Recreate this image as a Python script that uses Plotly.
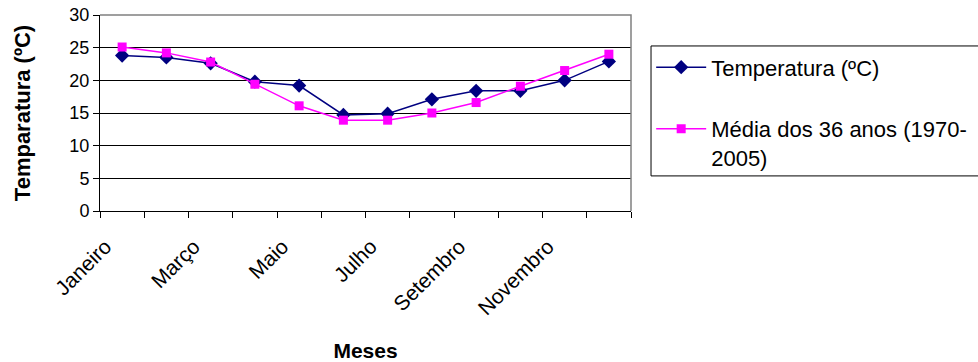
import plotly.graph_objects as go

# Monthly temperatures (ºC) and the 36-year average (1970-2005)
meses = ["Janeiro", "Fevereiro", "Março", "Abril", "Maio", "Junho",
         "Julho", "Agosto", "Setembro", "Outubro", "Novembro", "Dezembro"]
temperatura = [23.8, 23.5, 22.6, 19.8, 19.2, 14.7, 14.9, 17.1, 18.4, 18.4, 20.0, 22.9]
media_36_anos = [25.1, 24.2, 22.8, 19.4, 16.1, 13.9, 13.9, 15.0, 16.6, 19.1, 21.5, 24.0]

# Only every other month is labelled on the category axis
rotulos = [m for i, m in enumerate(meses) if i % 2 == 0]
posicoes_rotulos = [i for i in range(len(meses)) if i % 2 == 0]
y_ticks = [0, 5, 10, 15, 20, 25, 30]

FONT = "Liberation Sans, Arial, sans-serif"
# Rotated labels sit with their end slightly left of the category centre
LABEL_SHIFT = 0.38

fig = go.Figure()
fig.add_trace(go.Scatter(
    x=meses, y=temperatura, name="Temperatura (ºC)",
    mode="lines+markers", legendgroup="a",
    line=dict(color="#000080", width=1.5),
    marker=dict(symbol="diamond", size=11, color="#000080"),
))
fig.add_trace(go.Scatter(
    x=meses, y=media_36_anos, name="Média dos 36 anos (1970-<br>2005)",
    mode="lines+markers", legendgroup="b",
    line=dict(color="#FF00FF", width=1.5),
    marker=dict(symbol="square", size=9, color="#FF00FF"),
))
# empty helper trace so the label axis gets drawn
fig.add_trace(go.Scatter(
    x=[p - LABEL_SHIFT for p in posicoes_rotulos], y=[None] * len(posicoes_rotulos),
    xaxis="x2", yaxis="y", mode="markers", showlegend=False, hoverinfo="skip",
))

fig.update_layout(
    width=978, height=362,
    margin=dict(l=100, r=347, t=15, b=151, autoexpand=False),
    paper_bgcolor="white", plot_bgcolor="white",
    font=dict(family=FONT, color="black", size=18),
    showlegend=True,
    legend=dict(
        x=1.038, xanchor="left", y=0.84, yanchor="top",
        borderwidth=0, bgcolor="rgba(0,0,0,0)",
        font=dict(family=FONT, size=22, color="black"),
        traceorder="grouped", tracegroupgap=30, itemwidth=50,
        valign="top",
    ),
    # category axis carrying the data, tick marks on the month boundaries
    xaxis=dict(
        type="category", categoryarray=meses, categoryorder="array",
        range=[-0.5, len(meses) - 0.5],
        tickson="boundaries", ticks="outside", ticklen=6, tickcolor="black",
        showticklabels=False,
        showline=True, linecolor="black", linewidth=1,
        showgrid=False, zeroline=False,
    ),
    # overlay axis used for the rotated month labels and the axis title
    xaxis2=dict(
        overlaying="x", anchor="y", side="bottom",
        range=[-0.5, len(meses) - 0.5],
        tickmode="array", tickvals=[p - LABEL_SHIFT for p in posicoes_rotulos],
        ticktext=rotulos,
        ticks="outside", ticklen=6, tickcolor="rgba(0,0,0,0)",
        tickangle=-45, ticklabelstandoff=8, tickfont=dict(size=21),
        showline=False, showgrid=False, zeroline=False,
        title=dict(text="<b>Meses</b>", font=dict(size=21), standoff=24),
    ),
    yaxis=dict(
        range=[0, 30], tickmode="array", tickvals=y_ticks,
        ticks="outside", ticklen=6, tickcolor="black",
        showline=True, linecolor="black", linewidth=1,
        showgrid=True, gridcolor="black", gridwidth=1, zeroline=False,
        title=dict(text="<b>Temparatura (ºC)</b>", font=dict(size=22), standoff=32),
    ),
    shapes=[
        # grey frame on the top and right of the plot area
        dict(type="path", xref="paper", yref="paper", path="M0,1 L1,1 L1,0",
             line=dict(color="#808080", width=1.5), layer="above"),
        # legend frame, running past the right edge of the page
        dict(type="rect", xref="paper", yref="paper",
             x0=1.0377, x1=1.7, y0=0.179, y1=0.842,
             line=dict(color="black", width=1), fillcolor="white", layer="below"),
    ],
)

fig.write_html("out.html")
